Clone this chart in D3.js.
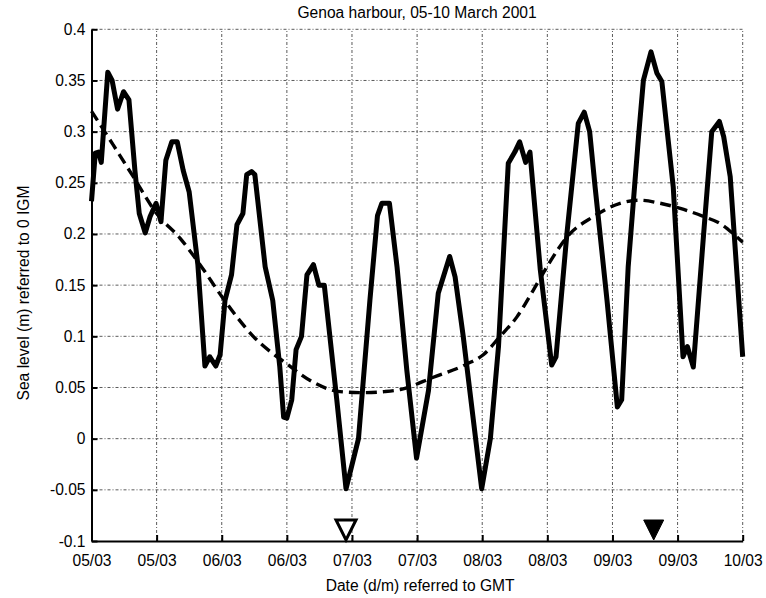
<!DOCTYPE html>
<html>
<head>
<meta charset="utf-8">
<script src="https://cdn.jsdelivr.net/npm/d3@7"></script>
<style>
  html, body { margin: 0; padding: 0; background: #fff; }
  text { font-family: "Liberation Sans", Arial, Helvetica, sans-serif; fill: #000; }
</style>
</head>
<body>
<svg id="chart" width="766" height="598"></svg>
<script>
// ---- data ----
const titleText = "Genoa harbour, 05-10 March 2001";
const xTitle = "Date (d/m) referred to GMT";
const yTitle = "Sea level (m) referred to 0 IGM";

// hours since 05/03 00:00 GMT
const tickHours = [0, 12, 24, 36, 48, 60, 72, 84, 96, 108, 120];
const tickLabels = ["05/03","05/03","06/03","06/03","07/03","07/03","08/03","08/03","09/03","09/03","10/03"];
const yTicks = [-0.1, -0.05, 0, 0.05, 0.1, 0.15, 0.2, 0.25, 0.3, 0.35, 0.4];
const yTickLabels = ["-0.1","-0.05","0","0.05","0.1","0.15","0.2","0.25","0.3","0.35","0.4"];

// observed sea level (solid)
const obsHours = [0, 0.7, 1.3, 1.8, 3.0, 3.8, 4.8, 5.9, 6.9, 8.0, 8.8, 9.9, 10.8, 11.9, 12.8, 13.7, 14.8, 15.8, 16.9, 18.0,
  19.6, 20.9, 21.8, 22.9, 23.7, 24.6, 25.8, 26.8, 27.9, 28.6, 29.5, 30.1, 32.0, 33.4, 34.7, 35.4, 36.0, 36.9, 37.7, 38.7,
  39.7, 40.9, 41.9, 42.9, 45.2, 46.9, 49.2, 51.3, 52.7, 53.5, 54.9, 56.3, 58.1, 59.9, 62.1, 63.9, 66.0, 67.0, 68.5, 71.9,
  73.5, 75.0, 76.8, 78.0, 78.9, 80.0, 80.8, 82.7, 84.8, 85.6, 87.6, 89.7, 90.8, 91.8, 92.8, 95.0, 96.9, 97.7, 98.9, 100.8,
  101.7, 103.1, 104.2, 105.1, 107.2, 109.0, 109.8, 110.9, 112.8, 114.3, 115.7, 116.5, 117.7, 120];
const obsLevel = [0.232, 0.279, 0.28, 0.27, 0.358, 0.35, 0.322, 0.339, 0.331, 0.262, 0.22, 0.201, 0.217, 0.23, 0.212, 0.272, 0.29, 0.29, 0.262, 0.241,
  0.17, 0.071, 0.08, 0.071, 0.082, 0.135, 0.16, 0.209, 0.22, 0.258, 0.261, 0.258, 0.168, 0.135, 0.07, 0.021, 0.02, 0.038, 0.087, 0.1,
  0.16, 0.17, 0.15, 0.15, 0.038, -0.049, 0.0, 0.135, 0.218, 0.23, 0.23, 0.168, 0.067, -0.019, 0.047, 0.142, 0.178, 0.158, 0.1, -0.049,
  0.0, 0.09, 0.269, 0.28, 0.29, 0.27, 0.28, 0.165, 0.072, 0.08, 0.2, 0.308, 0.319, 0.3, 0.246, 0.135, 0.031, 0.038, 0.168, 0.295,
  0.35, 0.378, 0.357, 0.349, 0.246, 0.08, 0.09, 0.07, 0.2, 0.3, 0.31, 0.295, 0.256, 0.08];

// low-frequency (residual) level (dashed)
const lowHours = [0, 4, 7.7, 12, 16.3, 20, 24, 29.8, 36, 40.9, 43.4, 45.8, 50, 54, 56.9, 63, 69.2, 72.2, 75.3, 78.4,
  81.4, 84.4, 87.6, 92.5, 97.4, 101.1, 104.8, 108.5, 112.8, 115.9, 118.3, 120];
const lowLevel = [0.32, 0.287, 0.256, 0.22, 0.196, 0.17, 0.139, 0.1, 0.073, 0.055, 0.049, 0.046, 0.045, 0.046, 0.048, 0.06, 0.073, 0.082, 0.1, 0.119,
  0.145, 0.172, 0.197, 0.217, 0.23, 0.233, 0.23, 0.225, 0.217, 0.21, 0.2, 0.192];

// event markers (hours) : open = low, filled = high
const markerHours = [46.9, 103.6];
const markerFilled = [false, true];

// ---- drawing ----
const svg = d3.select("#chart");
const W = 766, H = 598;
const FS = 15.6;
const m = { left: 91.5, right: W - 742.7, top: 29.3, bottom: H - 541 };
const x = d3.scaleLinear().domain([0, 120]).range([m.left, W - m.right]);
const y = d3.scaleLinear().domain([-0.1, 0.4]).range([H - m.bottom, m.top]);

// grid
const grid = svg.append("g").attr("stroke", "#5a5a5a").attr("stroke-width", 1).attr("stroke-dasharray", "3,2,1,2").attr("fill", "none");
grid.selectAll("line.v").data(tickHours.slice(1)).join("line")
  .attr("x1", d => x(d)).attr("x2", d => x(d)).attr("y1", y(-0.1)).attr("y2", y(0.4));
grid.selectAll("line.h").data(yTicks.slice(1)).join("line")
  .attr("x1", x(0)).attr("x2", x(120)).attr("y1", d => y(d)).attr("y2", d => y(d));

// axes
const xAxis = d3.axisBottom(x).tickValues(tickHours).tickFormat((d, i) => tickLabels[i]).tickSizeInner(-6).tickSizeOuter(0).tickPadding(14);
const yAxis = d3.axisLeft(y).tickValues(yTicks).tickFormat((d, i) => yTickLabels[i]).tickSizeInner(-6).tickSizeOuter(0).tickPadding(12);

const gx = svg.append("g").attr("transform", `translate(0,${y(-0.1)})`).call(xAxis);
const gy = svg.append("g").attr("transform", `translate(${x(0)},0)`).call(yAxis);
[gx, gy].forEach(g => {
  g.select(".domain").attr("stroke", "#000").attr("stroke-width", 2);
  g.selectAll(".tick line").attr("stroke", "#000").attr("stroke-width", 2);
  g.selectAll(".tick text").attr("font-size", FS).attr("font-family", "Liberation Sans, Arial, sans-serif").attr("fill", "#000");
});
gy.selectAll(".tick text").attr("x", -6);

// lines
const obs = obsHours.map((h, i) => [h, obsLevel[i]]);
const low = lowHours.map((h, i) => [h, lowLevel[i]]);

svg.append("path").datum(low)
  .attr("fill", "none").attr("stroke", "#000").attr("stroke-width", 3.4)
  .attr("stroke-dasharray", "11,6")
  .attr("d", d3.line().x(d => x(d[0])).y(d => y(d[1])).curve(d3.curveMonotoneX));

svg.append("path").datum(obs)
  .attr("fill", "none").attr("stroke", "#000").attr("stroke-width", 5)
  .attr("stroke-linejoin", "round")
  .attr("d", d3.line().x(d => x(d[0])).y(d => y(d[1])));

// markers
const tri = svg.append("g");
markerHours.forEach((h, i) => {
  const cx = x(h), by = y(-0.1);
  const pts = [[cx - 10, by - 21], [cx + 10, by - 21], [cx, by - 1]];
  tri.append("path")
    .attr("d", "M" + pts.map(p => p.join(",")).join("L") + "Z")
    .attr("fill", markerFilled[i] ? "#000" : "#fff")
    .attr("stroke", "#000").attr("stroke-width", markerFilled[i] ? 1 : 3)
    .attr("stroke-linejoin", "miter");
});

// titles
svg.append("text").attr("x", (x(0) + x(120)) / 2).attr("y", 18).attr("text-anchor", "middle")
  .attr("font-size", FS).text(titleText);
svg.append("text").attr("x", (x(0) + x(120)) / 2 + 3).attr("y", 591).attr("text-anchor", "middle")
  .attr("font-size", FS).text(xTitle);
svg.append("text").attr("transform", `translate(29,${293}) rotate(-90)`).attr("text-anchor", "middle")
  .attr("font-size", FS).text(yTitle);
</script>
</body>
</html>
